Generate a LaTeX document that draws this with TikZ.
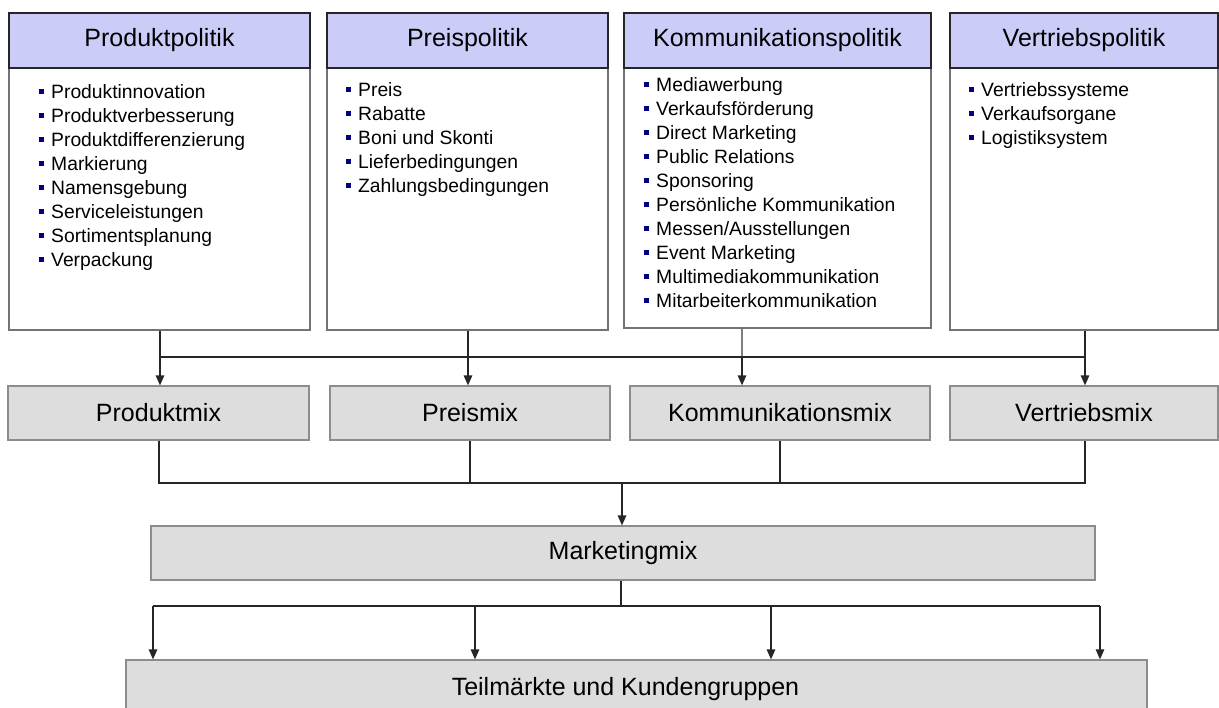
\documentclass[tikz,border=0pt]{standalone}
\usepackage{fontspec}
\setmainfont{Liberation Sans}
\usetikzlibrary{arrows.meta}
\definecolor{hdrfill}{RGB}{204,204,248}
\definecolor{mixfill}{RGB}{221,221,221}
\definecolor{bulletblue}{RGB}{0,0,128}
% small navy square in front of each list entry
\newcommand{\itm}{\textcolor{bulletblue}{\rule[0.22em]{4.5pt}{4.5pt}}\hspace{7.5pt}}

\begin{document}
\begin{tikzpicture}[x=1pt,y=-1pt,
  hdr/.style={draw=black!85, line width=1.2pt, fill=hdrfill, inner sep=0pt,
              font=\fontsize{25}{29}\selectfont},
  body/.style={draw=black!55, line width=1.2pt, fill=white, inner sep=0pt},
  list/.style={anchor=north west, inner sep=0pt, align=left,
               font=\fontsize{19.3}{24}\selectfont},
  mix/.style={draw=black!45, line width=1.2pt, fill=mixfill, inner sep=0pt,
              font=\fontsize{25}{29}\selectfont},
  conn/.style={line width=1.4pt, draw=black!85},
  arr/.style={conn, -{Triangle[length=10pt,width=8.5pt]}}]

\useasboundingbox (0,0) rectangle (1219,708);

% ---- policy columns: header + list body
\node[body, minimum width=301pt, minimum height=262pt] (b1) at (159.5,199) {};
\node[body, minimum width=281pt, minimum height=262pt] (b2) at (467.5,199) {};
\node[body, minimum width=307pt, minimum height=260pt] (b3) at (777.5,198) {};
\node[body, minimum width=268pt, minimum height=262pt] (b4) at (1084,199) {};

\node[hdr, minimum width=301pt, minimum height=55pt] (h1) at (159.5,40.5) {Produktpolitik};
\node[hdr, minimum width=281pt, minimum height=55pt] (h2) at (467.5,40.5) {Preispolitik};
\node[hdr, minimum width=307pt, minimum height=55pt] (h3) at (777.5,40.5) {Kommunikationspolitik};
\node[hdr, minimum width=268pt, minimum height=55pt] (h4) at (1084,40.5) {Vertriebspolitik};

\node[list] (l1) at (39,84) {\itm Produktinnovation\\ \itm Produktverbesserung\\
  \itm Produktdifferenzierung\\ \itm Markierung\\ \itm Namensgebung\\
  \itm Serviceleistungen\\ \itm Sortimentsplanung\\ \itm Verpackung};
\node[list] (l2) at (346,82) {\itm Preis\\ \itm Rabatte\\ \itm Boni und Skonti\\
  \itm Lieferbedingungen\\ \itm Zahlungsbedingungen};
\node[list] (l3) at (644,77) {\itm Mediawerbung\\ \itm Verkaufsförderung\\
  \itm Direct Marketing\\ \itm Public Relations\\ \itm Sponsoring\\
  \itm Persönliche Kommunikation\\ \itm Messen/Ausstellungen\\
  \itm Event Marketing\\ \itm Multimediakommunikation\\ \itm Mitarbeiterkommunikation};
\node[list] (l4) at (969,82) {\itm Vertriebssysteme\\ \itm Verkaufsorgane\\
  \itm Logistiksystem};

% ---- mix level
\node[mix, minimum width=301pt, minimum height=54pt] (m1) at (158.5,413) {Produktmix};
\node[mix, minimum width=280pt, minimum height=54pt] (m2) at (470,413) {Preismix};
\node[mix, minimum width=300pt, minimum height=54pt] (m3) at (780,413) {Kommunikationsmix};
\node[mix, minimum width=268pt, minimum height=54pt] (m4) at (1084,413) {Vertriebsmix};

\node[mix, minimum width=944pt, minimum height=54pt] (mm) at (623,553) {Marketingmix};
\node[mix, minimum width=1021pt, minimum height=58pt] (tk) at (636.5,689)
  {Teilmärkte und Kundengruppen\kern22pt};

% ---- bus between policies and mixes
\coordinate (j1) at (160,357);
\coordinate (j2) at (468,357);
\coordinate (j3) at (742,357);
\coordinate (j4) at (1085,357);
\draw[conn] (b1.south -| j1) -- (j1);
\draw[conn] (b2.south -| j2) -- (j2);
\draw[conn, draw=black!50] (b3.south -| j3) -- (j3);
\draw[conn] (b4.south -| j4) -- (j4);
\draw[conn] (j1) -- (j4);
\draw[arr] (j1) -- (m1.north -| j1);
\draw[arr] (j2) -- (m2.north -| j2);
\draw[arr] (j3) -- (m3.north -| j3);
\draw[arr] (j4) -- (m4.north -| j4);

% ---- bus between mixes and marketing mix
\coordinate (k1) at (159,483);
\coordinate (k4) at (1085,483);
\coordinate (kc) at (622,483);
\draw[conn] (m1.south -| k1) |- (k4) -- (m4.south -| k4);
\draw[conn] (m2.south) -- (m2.south |- k1);
\draw[conn] (m3.south) -- (m3.south |- k1);
\draw[arr] (kc) -- (mm.north -| kc);

% ---- fan-out to sub-markets
\coordinate (n0) at (621,606);
\coordinate (n1) at (153,606);
\coordinate (n2) at (475,606);
\coordinate (n3) at (771,606);
\coordinate (n4) at (1100,606);
\draw[conn] (mm.south -| n0) -- (n0);
\draw[conn] (n1) -- (n4);
\draw[arr] (n1) -- (tk.north -| n1);
\draw[arr] (n2) -- (tk.north -| n2);
\draw[arr] (n3) -- (tk.north -| n3);
\draw[arr] (n4) -- (tk.north -| n4);
\end{tikzpicture}
\end{document}
